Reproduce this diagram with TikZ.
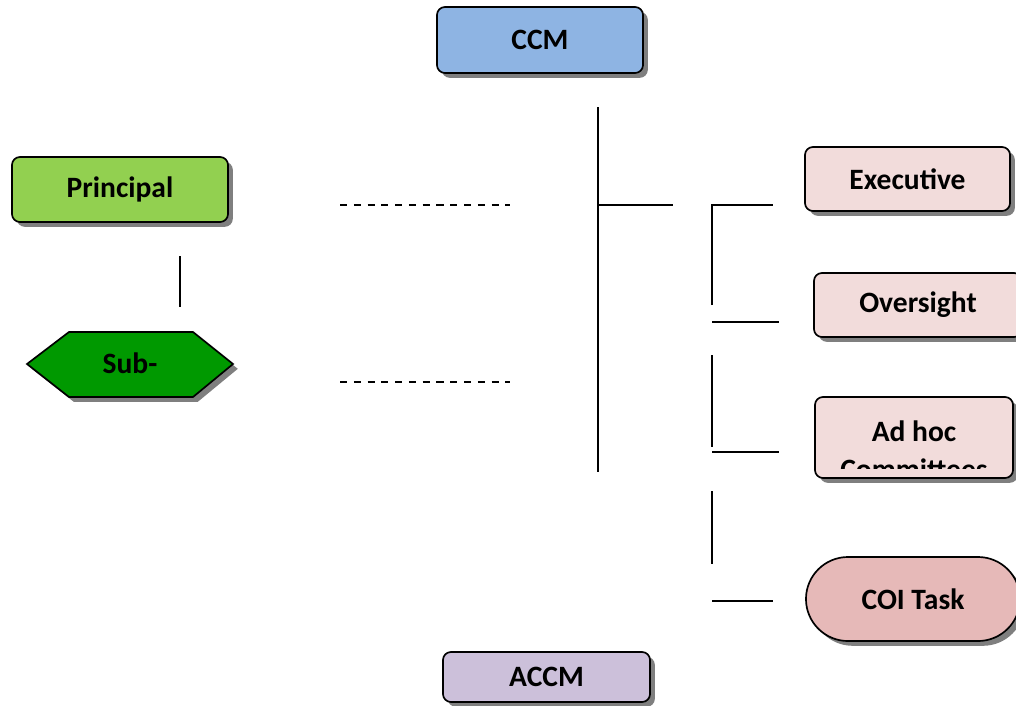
\documentclass[tikz,border=0pt]{standalone}
\usepackage{fontspec}
\setmainfont{Carlito}
\usetikzlibrary{shadows}

\definecolor{ccmblue}{HTML}{8EB4E3}
\definecolor{princgreen}{HTML}{92D050}
\definecolor{subgreen}{HTML}{009900}
\definecolor{compink}{HTML}{F2DCDB}
\definecolor{coirose}{HTML}{E6B9B8}
\definecolor{accmlilac}{HTML}{CCC0DA}
\definecolor{shadowgray}{HTML}{7F7F7F}

\tikzset{
	boxshadow/.style={drop shadow={shadow xshift=0.12cm, shadow yshift=-0.12cm, fill=shadowgray, opacity=1}},
	orgbox/.style={draw, line width=1.2pt, rounded corners=0.2cm, inner sep=0pt, boxshadow},
	orgline/.style={line width=1.5pt},
	dashline/.style={line width=1.3pt, dash pattern=on 5pt off 4.8pt}
}

\begin{document}
\begin{tikzpicture}[x=0.025cm, y=-0.025cm, font=\fontsize{21}{27}\selectfont\bfseries]
			\clip (0,0) rectangle (1016,705);
			% boxes
				\node[orgbox, fill=ccmblue, minimum width=5.15cm, minimum height=1.65cm] (ccm) at (540,40) {CCM};
				\node[orgbox, fill=princgreen, minimum width=5.4cm, minimum height=1.625cm] (principal) at (120,189.5) {Principal};
				\filldraw[line width=1.2pt, fill=subgreen, boxshadow] (27,364) -- (69,332) -- (193,332) -- (233,364) -- (193,397) -- (69,397) -- cycle;
				\node (sub) at (130,363) {Sub-};
				\node[orgbox, fill=compink, minimum width=5.125cm, minimum height=1.6cm] (executive) at (907.5,179) {Executive};
				\node[orgbox, fill=compink, minimum width=5.2cm, minimum height=1.6cm] (oversight) at (918,305) {Oversight};
				\node[orgbox, fill=compink, minimum width=4.95cm, minimum height=2.025cm] (adhoc) at (914,437.5) {};
				\begin{scope}
					\clip (815,397) rectangle (1013,468);
					\node[align=center] (adhoctext) at (914,450) {Ad hoc\\Committees};
				\end{scope}
				\node[orgbox, fill=coirose, rounded corners=1.05cm, minimum width=5.35cm, minimum height=2.1cm] (coi) at (913,599) {COI Task};
				\node[orgbox, fill=accmlilac, minimum width=5.175cm, minimum height=1.25cm] (accm) at (546.5,677) {ACCM};

			% lines
				\draw[orgline] (180,256) -- (180,307);
				\draw[dashline] (340,205) -- (510,205);
				\draw[dashline] (340,382) -- (510,382);
				\draw[orgline] (598,107) -- (598,472);
				\draw[orgline] (598,205) -- (673,205);
				\draw[orgline] (712,305) -- (712,205) -- (773,205);
				\draw[orgline] (712,322) -- (779,322);
				\draw[orgline] (712,355) -- (712,447);
				\draw[orgline] (712,452) -- (779,452);
				\draw[orgline] (712,491) -- (712,564);
				\draw[orgline] (712,601) -- (773,601);
		\end{tikzpicture}
\end{document}
